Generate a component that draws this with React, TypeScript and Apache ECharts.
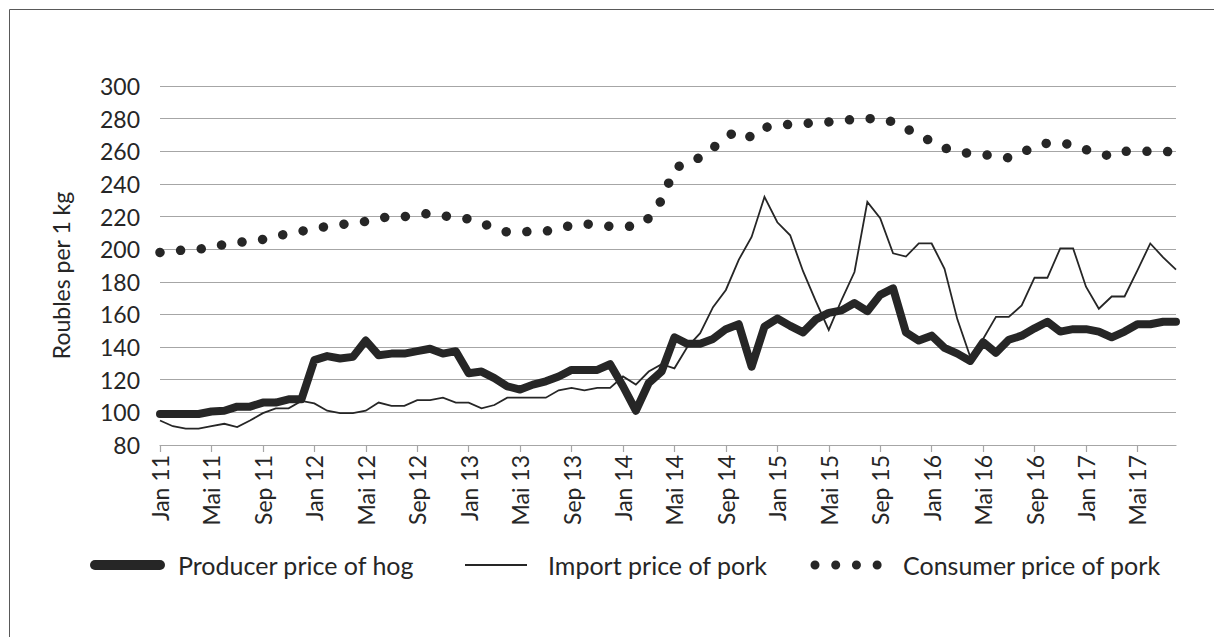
import React, { useEffect, useRef } from "react";
import * as echarts from "echarts";

const monthNames = ["Jan", "Feb", "Mär", "Apr", "Mai", "Jun", "Jul", "Aug", "Sep", "Okt", "Nov", "Dez"];
const years = ["11", "12", "13", "14", "15", "16", "17"];
const monthCount = 80;
const categories: string[] = [];
for (let i = 0; i < monthCount; i++) {
  categories.push(monthNames[i % 12] + " " + years[Math.floor(i / 12)]);
}

const producerPrice = [
  99, 99, 99, 99, 100.5, 101, 103.5, 103.5, 106, 106, 108, 108,
  132, 134.5, 133, 134, 144, 135, 136, 136, 137.5, 139, 136, 137.5,
  124, 125, 121, 116, 114, 117, 119, 122, 126, 126, 126, 129.5,
  116, 101, 118, 125, 146, 142, 142, 145, 151, 154, 128, 152.5,
  157.5, 153, 149, 157, 161, 162.5, 167, 162, 172, 176, 149, 144,
  147, 139.5, 136, 131.5, 143, 136.5, 144.5, 147, 151.5, 155.5, 149.5, 151,
  151, 149.5, 146, 149.5, 154, 154, 155.5, 155.5,
];

const importPrice = [
  95, 91.5, 90, 90, 91.5, 93, 91, 95, 99.5, 102.5, 102.5, 107,
  105.5, 101, 99.5, 99.5, 101, 106, 104, 104, 107.5, 107.5, 109, 106,
  106, 102.5, 104.5, 109, 109, 109, 109, 113.5, 115, 113.5, 115, 115,
  122, 117, 125, 129.5, 127, 140, 148.5, 164.5, 175, 193.5, 207.5, 232,
  216.5, 208.5, 186.5, 168, 150.5, 169, 186, 229, 219, 197.5, 195.5, 203.5,
  203.5, 188, 157, 134, 145, 158.5, 158.5, 165.5, 182.5, 182.5, 200.5, 200.5,
  177, 163.5, 171, 171, 187, 203.5, 195, 187.5,
];

const consumerPrice = [
  198, 199, 199.5, 200, 201, 203, 204, 205, 206, 208, 209.5, 211,
  212.5, 214, 215, 216, 217, 219, 220, 220, 221, 222, 220.5, 219.5,
  218.5, 216, 213, 210.5, 210.5, 211, 211, 213, 214.5, 215.5, 215, 214,
  214, 214, 219, 230, 249, 254, 256, 262, 269, 272.5, 268.5, 274.5,
  276, 276.5, 277, 277.5, 278, 279, 279.5, 280, 280, 278, 274, 270,
  266, 262, 260, 258.5, 258, 257, 256, 259, 263, 265, 265, 264,
  261, 258.5, 257, 260, 260, 260, 260, 259.5,
];

const seriesNames = ["Producer price of hog", "Import price of pork", "Consumer price of pork"];
const yTitle = "Roubles per 1 kg";

const FONT = "Lato, 'Open Sans', sans-serif";
const INK = "#262626";
const DOTS = [0.01, 20.7];

export default function App() {
  const ref = useRef<HTMLDivElement>(null);
  useEffect(() => {
    document.body.style.margin = "0";
    const chart = echarts.init(ref.current!, null, { renderer: "svg" });
    const legendY = 565;
    const legendText = (x: number, text: string) => ({
      type: "text",
      x,
      y: legendY,
      silent: true,
      style: { text, fill: INK, font: `25px ${FONT}`, textVerticalAlign: "middle", verticalAlign: "middle" },
    });
    chart.setOption({
      animation: false,
      backgroundColor: "#ffffff",
      textStyle: { fontFamily: FONT, color: INK },
      graphic: [
        {
          type: "rect",
          left: 7,
          top: 7,
          shape: { x: 0, y: 0, width: 1240, height: 660 },
          style: { fill: "none", stroke: "#595959", lineWidth: 1 },
          silent: true,
        },
        {
          type: "line",
          silent: true,
          shape: { x1: 95, y1: legendY, x2: 160, y2: legendY },
          style: { stroke: INK, lineWidth: 10, lineCap: "round" },
        },
        legendText(178, seriesNames[0]),
        {
          type: "line",
          silent: true,
          shape: { x1: 465, y1: legendY, x2: 527, y2: legendY },
          style: { stroke: INK, lineWidth: 1.8 },
        },
        legendText(548, seriesNames[1]),
        {
          type: "line",
          silent: true,
          shape: { x1: 815, y1: legendY, x2: 879, y2: legendY },
          style: { stroke: INK, lineWidth: 9, lineCap: "round", lineDash: DOTS },
        },
        legendText(903, seriesNames[2]),
      ],
      grid: { left: 160, right: 38, top: 86, bottom: 192, containLabel: false },
      xAxis: {
        type: "category",
        data: categories,
        boundaryGap: false,
        axisLine: { lineStyle: { color: "#a6a6a6", width: 1.2 } },
        axisTick: { show: true, interval: 3, length: 7, lineStyle: { color: "#a6a6a6", width: 1.2 } },
        axisLabel: {
          interval: 3,
          rotate: 90,
          margin: 10,
          fontFamily: FONT,
          fontSize: 23,
          color: INK,
        },
        splitLine: { show: false },
      },
      yAxis: {
        type: "value",
        min: 80,
        max: 300,
        interval: 20,
        name: yTitle,
        nameLocation: "middle",
        nameRotate: 90,
        nameGap: 88,
        nameTextStyle: { fontFamily: FONT, fontSize: 23, color: INK, padding: [0, 20, 0, 0] },
        axisLine: { show: false },
        axisTick: { show: false },
        axisLabel: { margin: 20, fontFamily: FONT, fontSize: 23, color: INK },
        splitLine: { lineStyle: { color: "#a6a6a6", width: 1.2 } },
      },
      series: [
        {
          name: seriesNames[0],
          type: "line",
          data: producerPrice,
          symbol: "none",
          lineStyle: { color: INK, width: 8, join: "round", cap: "round" },
          itemStyle: { color: INK },
          z: 4,
        },
        {
          name: seriesNames[1],
          type: "line",
          data: importPrice,
          symbol: "none",
          lineStyle: { color: INK, width: 1.8, join: "miter" },
          itemStyle: { color: INK },
          z: 3,
        },
        {
          name: seriesNames[2],
          type: "line",
          data: consumerPrice,
          symbol: "none",
          lineStyle: { color: INK, width: 9.5, type: DOTS, cap: "round", join: "round" },
          itemStyle: { color: INK },
          z: 2,
        },
      ],
    });
    return () => chart.dispose();
  }, []);
  return <div ref={ref} style={{ width: 1214, height: 637 }} />;
}
